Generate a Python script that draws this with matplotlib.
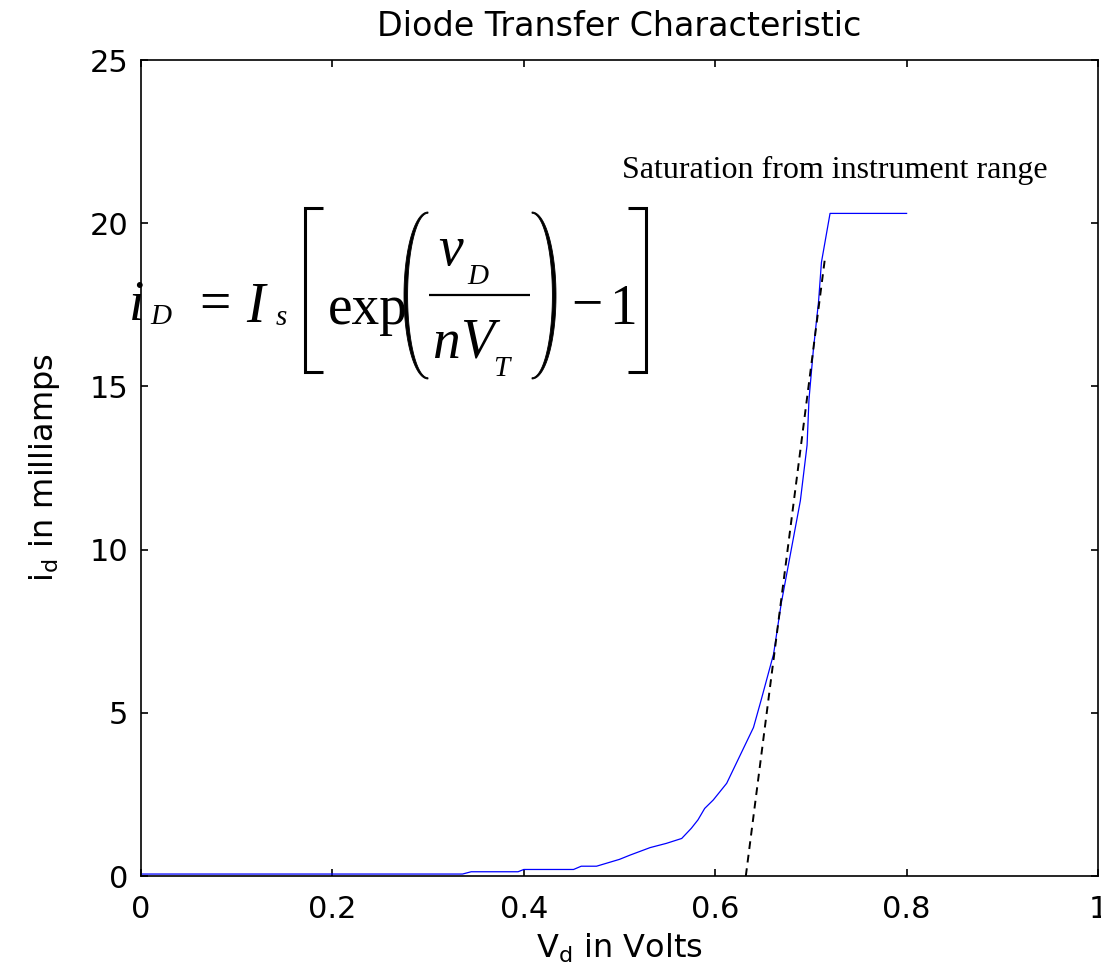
import matplotlib
matplotlib.use("Agg")
import matplotlib.pyplot as plt
import numpy as np
from matplotlib.lines import Line2D
from matplotlib.patches import Polygon

# Measured diode characteristic (V, mA)
v_d = [0.0, 0.336, 0.345, 0.394, 0.400, 0.452, 0.460, 0.476, 0.500, 0.511,
       0.532, 0.549, 0.565, 0.575, 0.582, 0.589, 0.598, 0.612, 0.640, 0.648,
       0.661, 0.669, 0.682, 0.689, 0.696, 0.698, 0.7025, 0.708, 0.711, 0.720, 0.800]
i_d = [0.06, 0.06, 0.13, 0.13, 0.20, 0.20, 0.30, 0.30, 0.51, 0.64,
       0.87, 1.00, 1.15, 1.46, 1.72, 2.07, 2.33, 2.84, 4.55, 5.39,
       6.80, 8.35, 10.4, 11.5, 13.2, 14.6, 16.1, 17.6, 18.8, 20.3, 20.3]

# Linear fit (dashed)
v_fit = [0.632, 0.715]
i_fit = [0.0, 19.0]

x_ticks = [0, 0.2, 0.4, 0.6, 0.8, 1.0]
x_tick_labels = ["0", "0.2", "0.4", "0.6", "0.8", "1"]
y_ticks = [0, 5, 10, 15, 20, 25]
y_tick_labels = ["0", "5", "10", "15", "20", "25"]

plt.rcParams['mathtext.fontset'] = 'dejavusans'

W, H = 1101, 977
fig = plt.figure(figsize=(W / 100, H / 100), dpi=100)
ax = fig.add_axes([141 / W, 101 / H, 957 / W, 816 / H])

ax.plot(v_d, i_d, color='#0000ff', lw=0.9)
ax.plot(v_fit, i_fit, color='black', lw=1.4, ls=(0, (4, 3)))

ax.set_xlim(0, 1)
ax.set_ylim(0, 25)
ax.set_xticks(x_ticks)
ax.set_xticklabels(x_tick_labels)
ax.set_yticks(y_ticks)
ax.set_yticklabels(y_tick_labels)
ax.tick_params(direction='in', top=True, right=True, length=5, width=1.2,
               labelsize=22)
ax.tick_params(axis='x', pad=14)
ax.tick_params(axis='y', pad=9)
for s in ax.spines.values():
    s.set_linewidth(1.2)

ax.set_title("Diode Transfer Characteristic", fontsize=24, pad=17)
ax.set_xlabel(r"V$_{\mathrm{d}}$ in Volts", fontsize=23)
ax.set_ylabel(r"i$_{\mathrm{d}}$ in milliamps", fontsize=23)
ax.xaxis.set_label_coords(0.5, -0.068)
ax.yaxis.set_label_coords(-0.083, 0.5)

fig.text(622 / W, 1 - 170 / H, "Saturation from instrument range",
         family='Liberation Serif', fontsize=23, ha='left', va='center')

# ---- equation, built from pieces (pixel positions from top-left) ----
def fpos(x, y):
    return (x / W, 1 - y / H)

BIG = 40
SUB = 21
serif = 'Liberation Serif'

def piece(x, y, s, size=BIG, italic=True):
    fig.text(*fpos(x, y), s, family=serif, fontsize=size,
             style='italic' if italic else 'normal',
             ha='left', va='baseline')

piece(129, 320, "i")
piece(150, 324, "D", SUB)
piece(199, 320, "=", italic=False)
piece(246, 322, "I")
piece(276, 325, "s", SUB)
piece(328, 324, "exp", italic=False)
piece(438, 265, "v")
piece(467, 284, "D", SUB)
piece(432, 358, "n")
piece(460, 358, "V")
piece(493, 376, "T", SUB)
piece(571, 320, "\u2212", italic=False)
piece(609, 324, "1", italic=False)

def fig_line(xs, ys, lw):
    pts = [fpos(x, y) for x, y in zip(xs, ys)]
    fig.add_artist(Line2D([p[0] for p in pts], [p[1] for p in pts],
                          transform=fig.transFigure, color='black', lw=lw,
                          solid_joinstyle='miter', solid_capstyle='butt'))

# square brackets
fig_line([323, 305, 305, 323], [207.5, 207.5, 371.5, 371.5], 2.2)
fig_line([628, 646, 646, 628], [207.5, 207.5, 371.5, 371.5], 2.2)
# fraction bar
fig_line([429, 530], [295, 295], 1.6)

# round parentheses as tapered crescents
t = np.linspace(-np.pi / 2, np.pi / 2, 60)
def paren(x_end, width, thick, y0, y1, sign):
    ym = (y0 + y1) / 2
    hh = (y1 - y0) / 2
    outer = [(x_end - sign * width * np.cos(a), ym + hh * np.sin(a)) for a in t]
    inner = [(x_end - sign * (width - thick) * np.cos(a), ym + hh * np.sin(a) * 0.985)
             for a in t[::-1]]
    pts = [fpos(x, y) for x, y in outer + inner]
    fig.add_artist(Polygon(pts, closed=True, transform=fig.transFigure,
                           facecolor='black', edgecolor='black', lw=0.6))

paren(428, 24, 3.6, 212, 379, 1)
paren(532, 24, 3.6, 212, 379, -1)

fig.savefig("out.png", dpi=100)
